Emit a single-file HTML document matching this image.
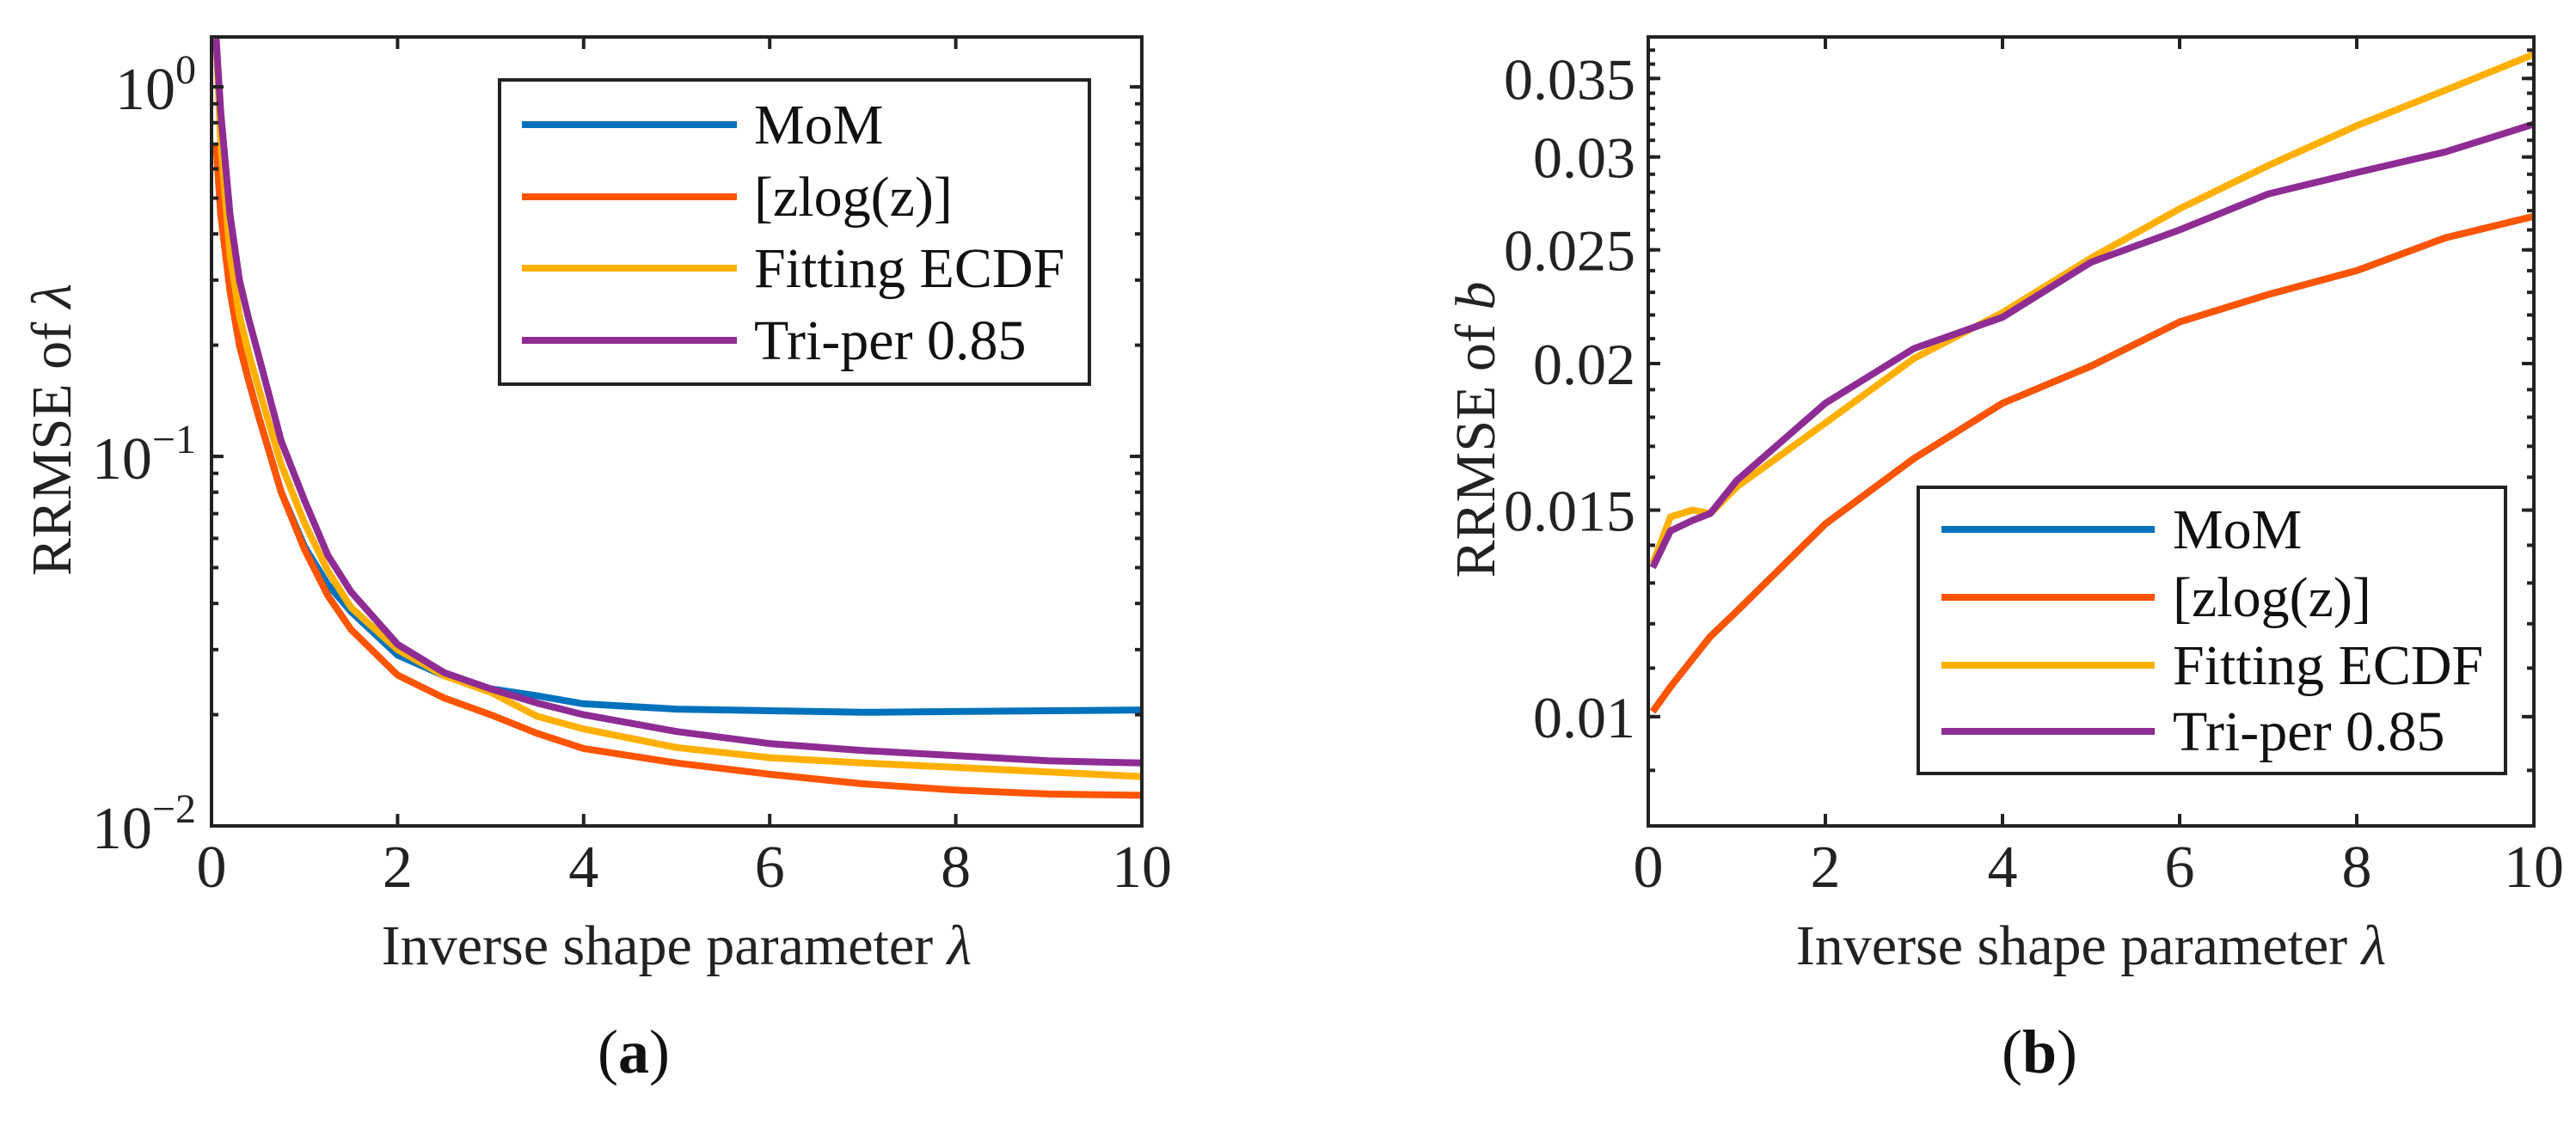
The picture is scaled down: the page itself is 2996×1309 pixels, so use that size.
<!DOCTYPE html>
<html><head><meta charset="utf-8"><style>
html,body{margin:0;padding:0;background:#fff;}
svg, svg text{font-family:"Liberation Serif","Times New Roman",serif;}
</style></head><body>
<svg id="fig" width="2996" height="1304" viewBox="0 0 2996 1304" font-family="Liberation Serif, serif" xmlns="http://www.w3.org/2000/svg"></svg>
<script>
// ---- data ----
const seriesNames = ["MoM", "[zlog(z)]", "Fitting ECDF", "Tri-per 0.85"];
const seriesColors = ["#0072BD", "#FF5400", "#FFB000", "#8E2C94"];
const xA = [0.05,0.1,0.2,0.3,0.4,0.5,0.75,1,1.25,1.5,2,2.5,3,3.5,4,5,6,7,8,9,10];
const aMoM    = [0.70,0.45,0.28,0.20,0.16,0.13,0.080,0.057,0.045,0.038,0.029,0.0255,0.0235,0.0225,0.0214,0.0207,0.0205,0.0203,0.0204,0.0205,0.0206];
const aZlog   = [0.70,0.45,0.28,0.20,0.16,0.13,0.080,0.056,0.042,0.034,0.0256,0.0222,0.0200,0.0178,0.0162,0.0148,0.0138,0.0130,0.0125,0.0122,0.0121];
const aECDF   = [1.35,0.70,0.35,0.24,0.19,0.155,0.095,0.066,0.049,0.039,0.030,0.0255,0.0230,0.0198,0.0183,0.0163,0.0153,0.0148,0.0144,0.0140,0.0136];
const aTri    = [1.35,0.85,0.45,0.30,0.235,0.19,0.11,0.076,0.054,0.043,0.031,0.026,0.0235,0.0215,0.0200,0.0180,0.0167,0.0160,0.0155,0.0150,0.0148];
const xB = [0.05,0.25,0.5,0.7,1,2,3,4,5,6,7,8,9,10];
const bZlog = [0.0101,0.0106,0.0112,0.0117,0.0123,0.0146,0.0166,0.0185,0.0199,0.0217,0.0229,0.0240,0.0256,0.0267];
const bMoM  = bZlog.slice();
const bECDF = [0.0135,0.0148,0.0150,0.0149,0.0157,0.0178,0.0202,0.0221,0.0246,0.0271,0.0295,0.0319,0.0342,0.0367];
const bTri  = [0.0134,0.0144,0.0147,0.0149,0.0159,0.0185,0.0206,0.0219,0.0244,0.0260,0.0279,0.0291,0.0303,0.0320];
const xTicks = [0,2,4,6,8,10];
const xTickLabels = ["0","2","4","6","8","10"];
const bYTicks = [0.01,0.015,0.02,0.025,0.03,0.035];
const bYTickLabels = ["0.01","0.015","0.02","0.025","0.03","0.035"];

const NS="http://www.w3.org/2000/svg";
const FF="Liberation Serif, serif";
const svg=document.getElementById('fig');
function mk(tag,attrs,parent){const e=document.createElementNS(NS,tag);for(const k in attrs)e.setAttribute(k,attrs[k]);if(tag==='text')e.setAttribute('font-family',FF);(parent||svg).appendChild(e);return e;}

function panel(P){
  const g=mk('g',{});
  
  
  const sx=v=>P.L+(v-0)/(10-0)*(P.R-P.L);
  const sy=v=>P.B-(Math.log10(v)-Math.log10(P.ymin))/(Math.log10(P.ymax)-Math.log10(P.ymin))*(P.B-P.T);
  const cp=mk('clipPath',{id:'cp'+P.id},g);mk('rect',{x:P.L,y:P.T,width:P.R-P.L,height:P.B-P.T},cp);
  P.series.forEach((s,i)=>{
    const d=P.xs.map((x,j)=>(j?'L':'M')+sx(x).toFixed(1)+','+sy(s[j]).toFixed(1)).join('');
    const p=mk('path',{d:d,fill:'none',stroke:seriesColors[i],'stroke-width':8,'stroke-linejoin':'round','clip-path':'url(#cp'+P.id+')'},g);
    
    
  });
  xTicks.forEach((t,i)=>{
    const x=sx(t);
    mk('line',{x1:x,y1:P.B,x2:x,y2:P.B-14,stroke:'#222','stroke-width':4},g);
    mk('line',{x1:x,y1:P.T,x2:x,y2:P.T+14,stroke:'#222','stroke-width':4},g);
    const tx=mk('text',{x:x,y:1032,'font-size':70,'text-anchor':'middle',fill:'#222'},g);
    tx.textContent=xTickLabels[i];
    
    
  });
  P.minor.forEach(v=>{const y=sy(v);if(y<P.T||y>P.B)return;
    mk('line',{x1:P.L,y1:y,x2:P.L+8,y2:y,stroke:'#222','stroke-width':4},g);
    mk('line',{x1:P.R,y1:y,x2:P.R-8,y2:y,stroke:'#222','stroke-width':4},g);});
  P.major.forEach(v=>{const y=sy(v);
    mk('line',{x1:P.L,y1:y,x2:P.L+14,y2:y,stroke:'#222','stroke-width':4},g);
    mk('line',{x1:P.R,y1:y,x2:P.R-14,y2:y,stroke:'#222','stroke-width':4},g);});
  P.yLabels(g,sy);
  mk('rect',{x:P.L,y:P.T,width:P.R-P.L,height:P.B-P.T,fill:'none',stroke:'#222','stroke-width':4},g);
  const xl=mk('text',{x:(P.L+P.R)/2,y:1122,'font-size':66,'text-anchor':'middle',fill:'#222'},g);
  xl.innerHTML='Inverse shape parameter <tspan font-style="italic">λ</tspan>';
  
  
  const yl=mk('text',{x:0,y:0,'font-size':66,'text-anchor':'middle',fill:'#222',transform:'translate('+P.ylx+',500) rotate(-90)'},g);
  yl.innerHTML='RRMSE of <tspan font-style="italic">'+P.ysym+'</tspan>';
  
  
  const cap=mk('text',{x:P.capx,y:1248,'font-size':72,'text-anchor':'middle',fill:'#111'},g);
  cap.innerHTML='(<tspan font-weight="bold">'+P.cap+'</tspan>)';
  
  
  const lg=mk('g',{},g);
  
  
  const Lg=P.leg;
  mk('rect',{x:Lg.x,y:Lg.y,width:Lg.w,height:Lg.h,fill:'#fff',stroke:'#222','stroke-width':4},lg);
  seriesNames.forEach((n,i)=>{
    const y=Lg.rows[i];
    const ent=mk('g',{},lg);
    
    
    mk('line',{x1:Lg.lx1,y1:y,x2:Lg.lx2,y2:y,stroke:seriesColors[i],'stroke-width':8},ent);
    const t=mk('text',{x:Lg.tx,y:y+22,'font-size':66,fill:'#111'},ent);
    t.textContent=n;
  });
}

const minorA=[];for(let e=-2;e<=0;e++)for(let m=1;m<=9;m++)minorA.push(m*Math.pow(10,e));
panel({id:'a',name:'panel-a',L:246,R:1328,T:43,B:961,ymin:0.01,ymax:1.365,xs:xA,
  series:[aMoM,aZlog,aECDF,aTri],minor:minorA,major:[0.01,0.1,1],ylx:82,ysym:'λ',cap:'a',capx:737,
  yLabels:(g,sy)=>{[[0.01,'−2'],[0.1,'−1'],[1,'0']].forEach(([v,ex])=>{
    const t=mk('text',{x:228,y:sy(v)+26,'font-size':70,'text-anchor':'end',fill:'#222'},g);
    t.innerHTML='10<tspan dy="-30" font-size="48">'+ex+'</tspan>';
    
    });},
  leg:{x:581,y:93,w:686,h:354,rows:[145,229,312,396],lx1:607,lx2:857,tx:877}});

const minorB=[];for(let k=9;k<=37;k++)minorB.push(k/1000);
panel({id:'b',name:'panel-b',L:1917,R:2947,T:43,B:961,ymin:0.00807,ymax:0.03797,xs:xB,
  series:[bMoM,bZlog,bECDF,bTri],minor:minorB,major:bYTicks,ylx:1738,ysym:'b',cap:'b',capx:2372,
  yLabels:(g,sy)=>{bYTicks.forEach((v,i)=>{
    const t=mk('text',{x:1902,y:sy(v)+24,'font-size':68,'text-anchor':'end',fill:'#222'},g);
    t.textContent=bYTickLabels[i];
    
    });},
  leg:{x:2231,y:567,w:683,h:333,rows:[616,695,774,851],lx1:2258,lx2:2506,tx:2527}});
</script>
</body></html>
